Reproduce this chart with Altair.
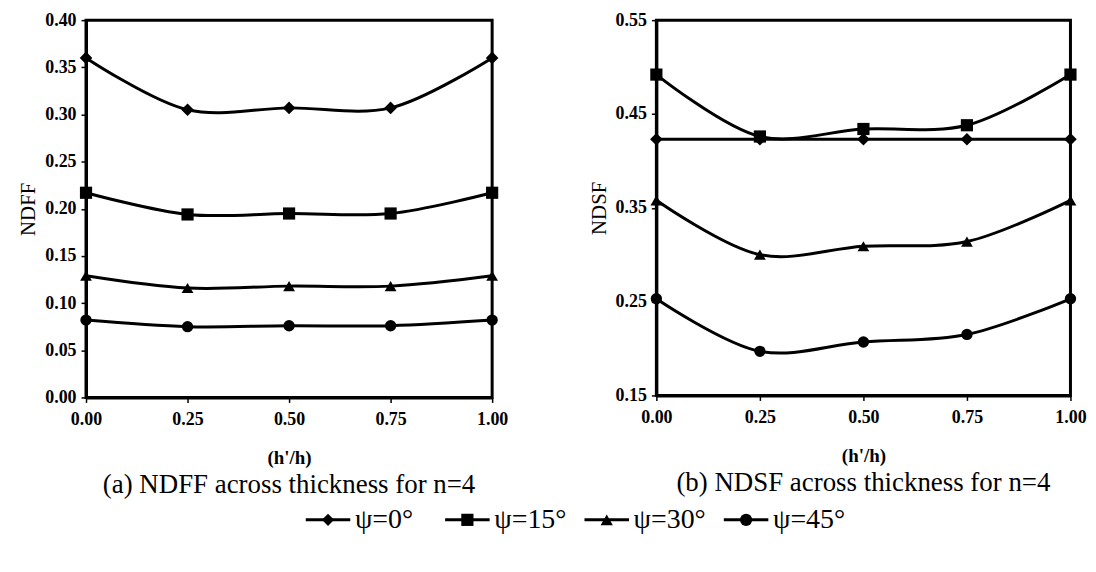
import altair as alt
import pandas as pd

# ---- data ----
x_vals = [0.00, 0.25, 0.50, 0.75, 1.00]
series = ["ψ=0°", "ψ=15°", "ψ=30°", "ψ=45°"]
shapes = ["diamond", "square", "triangle-up", "circle"]

ndff_0 = [0.360, 0.305, 0.307, 0.307, 0.360]
ndff_15 = [0.217, 0.194, 0.195, 0.195, 0.217]
ndff_30 = [0.129, 0.116, 0.118, 0.118, 0.129]
ndff_45 = [0.082, 0.075, 0.076, 0.076, 0.082]

ndsf_0 = [0.423, 0.423, 0.423, 0.423, 0.423]
ndsf_15 = [0.492, 0.426, 0.434, 0.438, 0.492]
ndsf_30 = [0.358, 0.300, 0.309, 0.314, 0.358]
ndsf_45 = [0.253, 0.197, 0.207, 0.215, 0.253]

ndff_ticks = [0.00, 0.05, 0.10, 0.15, 0.20, 0.25, 0.30, 0.35, 0.40]
ndsf_ticks = [0.15, 0.25, 0.35, 0.45, 0.55]

FONT = "Liberation Serif"


def make_df(cols):
    rows = []
    for s, vals in zip(series, cols):
        for xv, v in zip(x_vals, vals):
            rows.append({"x": xv, "v": v, "series": s})
    return pd.DataFrame(rows)


def panel(df, ytitle, domain, ticks, caption, w, h, sizes):
    base = alt.Chart(df).encode(
        x=alt.X("x:Q", scale=alt.Scale(domain=[0, 1], nice=False),
                axis=alt.Axis(values=x_vals, format=".2f", title="(h'/h)", labelFlush=False)),
        y=alt.Y("v:Q", scale=alt.Scale(domain=domain, nice=False, zero=False),
                axis=alt.Axis(values=ticks, format=".2f", title=ytitle)),
        detail="series:N",
    )
    line = base.mark_line(interpolate="catmull-rom", color="black", strokeWidth=3)
    pts = base.mark_point(filled=True, color="black", opacity=1).encode(
        shape=alt.Shape("series:N", scale=alt.Scale(domain=series, range=shapes), legend=None),
        size=alt.Size("series:N", scale=alt.Scale(domain=series, range=sizes), legend=None),
    )
    return alt.layer(line, pts).properties(
        width=w, height=h,
        title=alt.TitleParams(caption, orient="bottom", anchor="middle", frame="group",
                              font=FONT, fontSize=27, fontWeight="normal", color="black", offset=5),
    )


left = panel(make_df([ndff_0, ndff_15, ndff_30, ndff_45]), "NDFF", [0, 0.4], ndff_ticks,
             "(a) NDFF across thickness for n=4", 408, 379, [160, 130, 150, 180])
right = panel(make_df([ndsf_0, ndsf_15, ndsf_30, ndsf_45]), "NDSF", [0.15, 0.55], ndsf_ticks,
              "(b) NDSF across thickness for n=4", 416, 377, [80, 130, 150, 180])

# ---- custom legend (line + symbol + text) ----
leg_df = pd.DataFrame({"series": series})
lx = alt.X("series:N", sort=series, axis=None, scale=alt.Scale(domain=series))
leg_base = alt.Chart(leg_df).encode(x=lx, y=alt.value(15))
leg_line = leg_base.mark_point(shape="M-1,0L1,0", filled=False, color="black",
                               strokeWidth=3, size=2000, xOffset=-50, opacity=1)
leg_sym = leg_base.mark_point(filled=True, color="black", opacity=1, xOffset=-50, size=150).encode(
    shape=alt.Shape("series:N", scale=alt.Scale(domain=series, range=shapes), legend=None))
leg_txt = leg_base.mark_text(align="left", baseline="middle", font=FONT, fontSize=28,
                             color="black", dx=-23).encode(text="series:N")
legend = alt.layer(leg_line, leg_sym, leg_txt).properties(
    width=560, height=30, view=alt.ViewBackground(strokeWidth=0, stroke="transparent"))

chart = alt.vconcat(
    alt.hconcat(left, right, spacing=77),
    legend,
    spacing=5,
    center=True,
).properties(
    padding={"left": 8, "top": 0, "right": 0, "bottom": 0},
    background="white",
).configure_view(
    stroke="black", strokeWidth=3
).configure_axis(
    grid=False, domainColor="black", domainWidth=3, tickColor="black", tickWidth=1.5,
    tickSize=5, labelFont=FONT, labelFontSize=18, labelFontWeight="bold", labelColor="black",
    titleFont=FONT, titleColor="black",
).configure_axisX(
    labelPadding=8, titleFontSize=19, titleFontWeight="bold", titlePadding=20,
).configure_axisY(
    labelPadding=5, titleFontSize=21, titleFontWeight="normal", titlePadding=6,
)

chart.save("out.html", embed_options={"renderer": "svg", "actions": False})
